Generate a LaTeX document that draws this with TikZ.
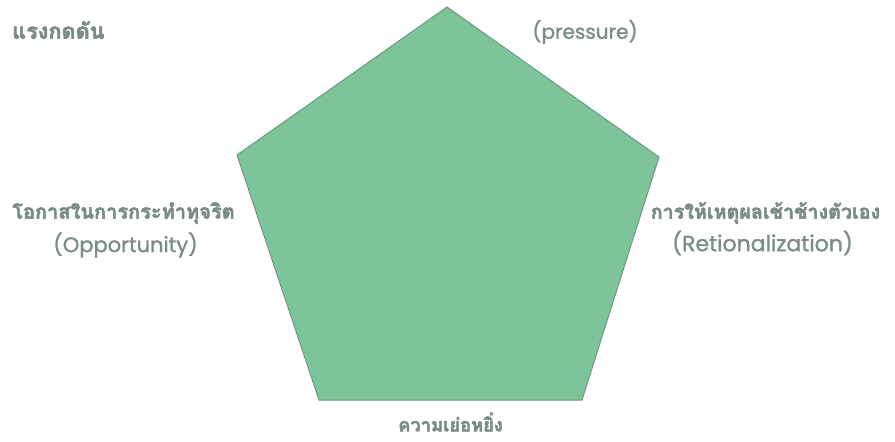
\documentclass[tikz,border=0pt]{standalone}
\usepackage{fontspec}
\newfontfamily\thaifont[Script=Thai,FakeBold=2.5]{Loma}
\newfontfamily\latinfont[FakeBold=1.2]{Poppins}
\definecolor{pentfill}{RGB}{125,196,154}
\definecolor{pentedge}{RGB}{110,155,132}
\definecolor{labelgray}{RGB}{122,140,132}
\tikzset{
  thailabel/.style={font=\thaifont\bfseries\fontsize{#1}{22}\selectfont, text=labelgray, inner sep=0pt},
  thailabel/.default=20,
  latlabel/.style={font=\latinfont\fontsize{#1}{21}\selectfont, text=labelgray, inner sep=0pt},
  latlabel/.default=20,
}
\begin{document}
\begin{tikzpicture}[x=1pt,y=-1pt]
\useasboundingbox (0,0) rectangle (895,442);
\coordinate (t) at (447,7);
\coordinate (r) at (659,157);
\coordinate (br) at (582,400);
\coordinate (bl) at (319,400);
\coordinate (l) at (237,155);
\filldraw[fill=pentfill, draw=pentedge, line width=1pt, line join=miter] (t) -- (r) -- (br) -- (bl) -- (l) -- cycle;
\node[thailabel=21.7, anchor=west] (pth) at (12,30) {แรงกดดัน};
\node[latlabel=20] (pen) at (585,32) {(pressure)};
\node[thailabel=20] (oth) at (123.5,213) {โอกาสในการกระทำทุจริต};
\node[latlabel=21] (oen) at (125.5,245) {(Opportunity)};
\node[thailabel=19.7] (rth) at (765.5,213) {การให้เหตุผลเช้าช้างตัวเอง};
\node[latlabel=22] (ren) at (762.5,243) {(Retionalization)};
\node[thailabel=18.3] (bth) at (450.5,422) {ความเย่อหยิ่ง};
\end{tikzpicture}
\end{document}
